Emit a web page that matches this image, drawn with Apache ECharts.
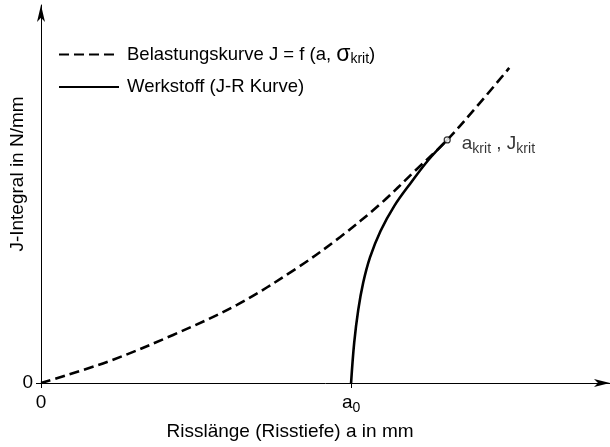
<!DOCTYPE html>
<html>
<head>
<meta charset="utf-8">
<script src="https://cdn.jsdelivr.net/npm/echarts@6/dist/echarts.min.js"></script>
<style>
  html, body { margin: 0; padding: 0; background: #fff; }
  #chart { width: 610px; height: 447px; }
</style>
</head>
<body>
<div id="chart"></div>
<script>
const FONT = '"Liberation Sans", Arial, Helvetica, sans-serif';

// Axis extents (crack length a, J-integral), initial crack depth a0
const A0 = 10;
const X_MAX = 18.35;
const Y_MAX = 12.19;

// Loading curve J = f(a, sigma_krit)
const loadA = [0, 2.13, 4.26, 6.32, 8.26, 9.65, 10.94, 12.06, 13.10, 14.10, 15.10];
const loadJ = [0, 0.68, 1.55, 2.52, 3.71, 4.71, 5.77, 6.84, 7.84, 8.97, 10.16];

// Material resistance (J-R curve), starting at a0
const jrA = [10, 10.10, 10.23, 10.39, 10.61, 10.95, 11.40, 11.90, 12.50, 13.10];
const jrJ = [0, 1.29, 2.35, 3.23, 4.05, 4.90, 5.72, 6.42, 7.20, 7.84];

// Critical point (a_krit, J_krit)
const critA = 13.10;
const critJ = 7.84;

const NAME_LOAD = 'Belastungskurve J = f (a, σkrit)';
const NAME_JR = 'Werkstoff (J-R Kurve)';

const zip = (xs, ys) => xs.map((x, i) => [x, ys[i]]);

const txt = { fontFamily: FONT, fontSize: 19, color: '#000', lineHeight: 24 };
const sub = { fontFamily: FONT, fontSize: 14, color: '#000', lineHeight: 14, verticalAlign: 'bottom' };

const chart = echarts.init(document.getElementById('chart'), null, { renderer: 'canvas' });

chart.setOption({
  animation: false,
  backgroundColor: '#fff',
  grid: { left: 41, right: 0, top: 5, bottom: 64, containLabel: false, outerBoundsMode: 'none' },
  legend: {
    orient: 'vertical',
    left: 53,
    top: 38,
    itemWidth: 60,
    itemHeight: 14,
    itemGap: 11,
    data: [NAME_LOAD, NAME_JR],
    itemStyle: { color: 'transparent', borderColor: 'transparent', borderWidth: 0, opacity: 0 },
    formatter: name => name === NAME_LOAD
      ? '{t|Belastungskurve J = f (a, }{g|σ}{s|krit}{t|)}'
      : '{t|Werkstoff (J-R Kurve)}',
    textStyle: {
      padding: [0, 0, 0, 3],
      rich: {
        t: { fontFamily: FONT, fontSize: 18.5, color: '#000', lineHeight: 24 },
        g: { fontFamily: FONT, fontSize: 23, color: '#000', lineHeight: 24 },
        s: sub
      }
    }
  },
  xAxis: {
    type: 'value',
    min: 0,
    max: X_MAX,
    name: 'Risslänge (Risstiefe) a in mm',
    nameLocation: 'middle',
    nameGap: 39,
    nameMoveOverlap: false,
    nameTextStyle: { fontFamily: FONT, fontSize: 19, color: '#000', padding: [0, 71, 0, 0] },
    axisLine: {
      show: true,
      symbol: ['none', 'arrow'],
      symbolSize: [6, 16],
      lineStyle: { color: '#000', width: 1 }
    },
    axisTick: { show: true, customValues: [0, A0], length: 5, lineStyle: { color: '#000', width: 1 } },
    axisLabel: {
      customValues: [0, A0],
      margin: 8,
      formatter: v => v === 0 ? '{t|0}' : '{t|a}{s|0}',
      rich: { t: txt, s: sub }
    },
    splitLine: { show: false }
  },
  yAxis: {
    type: 'value',
    min: 0,
    max: Y_MAX,
    name: 'J-Integral in N/mm',
    nameLocation: 'middle',
    nameGap: 14,
    nameMoveOverlap: false,
    nameTextStyle: { fontFamily: FONT, fontSize: 19, color: '#000', padding: [0, 0, 0, 40] },
    axisLine: {
      show: true,
      symbol: ['none', 'arrow'],
      symbolSize: [6, 17],
      lineStyle: { color: '#000', width: 1 }
    },
    axisTick: { show: true, customValues: [0], length: 5, lineStyle: { color: '#000', width: 1 } },
    axisLabel: {
      customValues: [0],
      margin: 8,
      fontFamily: FONT,
      fontSize: 19,
      color: '#000'
    },
    splitLine: { show: false }
  },
  series: [
    {
      name: NAME_LOAD,
      type: 'line',
      data: zip(loadA, loadJ),
      smooth: 0.35,
      symbol: 'none',
      lineStyle: { color: '#000', width: 2.6, type: [10, 5] },
      itemStyle: { color: '#000' },
      z: 3
    },
    {
      name: NAME_JR,
      type: 'line',
      data: zip(jrA, jrJ),
      smooth: 0.35,
      symbol: 'none',
      lineStyle: { color: '#000', width: 2.6 },
      itemStyle: { color: '#000' },
      z: 2
    },
    {
      name: 'krit',
      type: 'scatter',
      data: [[critA, critJ]],
      symbol: 'circle',
      symbolSize: 6,
      itemStyle: { color: '#fff', borderColor: '#000', borderWidth: 1.2 },
      label: {
        show: true,
        position: 'right',
        distance: 11,
        offset: [0, 4],
        formatter: '{t|a}{s|krit}{t| , J}{s|krit}',
        rich: { t: txt, s: sub }
      },
      z: 5
    }
  ]
});
</script>
</body>
</html>
